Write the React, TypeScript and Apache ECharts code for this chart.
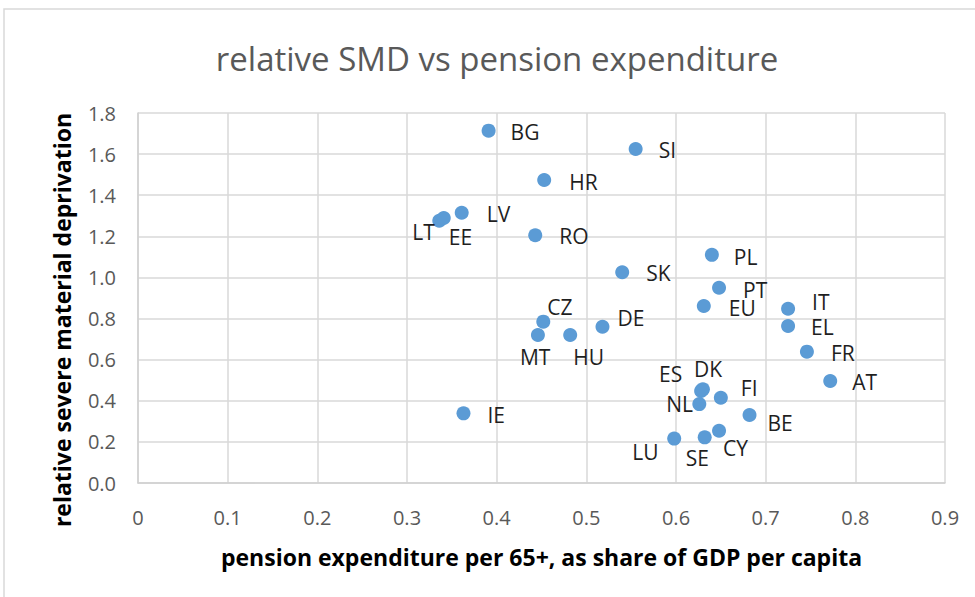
import React, { useEffect, useRef } from "react";
import * as echarts from "echarts";

const countries = ["BG","SI","HR","LV","LT","EE","RO","PL","SK","PT","EU","CZ","MT","HU","DE","IE","ES","DK","NL","FI","BE","LU","SE","CY","IT","EL","FR","AT"];
const pensionShare = [0.391,0.555,0.453,0.361,0.336,0.341,0.443,0.640,0.540,0.648,0.631,0.452,0.446,0.482,0.518,0.363,0.628,0.630,0.626,0.650,0.682,0.598,0.632,0.648,0.725,0.725,0.746,0.772];
const relativeSMD = [1.714,1.625,1.474,1.315,1.276,1.289,1.205,1.110,1.025,0.950,0.861,0.785,0.720,0.720,0.760,0.339,0.448,0.456,0.384,0.415,0.331,0.216,0.222,0.254,0.848,0.764,0.639,0.496];
const xTicks = [0,0.1,0.2,0.3,0.4,0.5,0.6,0.7,0.8,0.9];
const yTicks = [0,0.2,0.4,0.6,0.8,1.0,1.2,1.4,1.6,1.8];
const chartTitle = "relative SMD vs pension expenditure";
const xTitle = "pension expenditure per 65+, as share of GDP per capita";
const yTitle = "relative severe material deprivation";

// label offsets (left edge, vertical centre) relative to marker centre
const labelOffsets: Record<string, [number, number]> = {
  BG: [22, 1], SI: [23, 1], HR: [25, 2], LV: [25, 1], LT: [-27, 11], EE: [5, 19],
  RO: [24, 1], PL: [22, 2], SK: [24, 1], PT: [24, 2], EU: [25, 2], CZ: [4, -15],
  MT: [-18, 22], HU: [3, 22], DE: [15, -9], IE: [24, 2], ES: [-42, -17], DK: [-9, -20],
  NL: [-33, 0], FI: [20, -10], BE: [18, 8], LU: [-42, 13], SE: [-19, 21], CY: [4, 17],
  IT: [24, -7], EL: [23, 1], FR: [24, 1], AT: [22, 1],
};

export default function App() {
  const ref = useRef<HTMLDivElement>(null);
  useEffect(() => {
    if (!ref.current) return;
    const chart = echarts.init(ref.current, undefined, { renderer: "svg" });
    const data = countries.map((c, i) => ({
      name: c,
      value: [pensionShare[i], relativeSMD[i]],
    }));
    chart.setOption({
      animation: false,
      backgroundColor: "#ffffff",
      textStyle: { fontFamily: "Open Sans" },
      graphic: [
        {
          type: "rect",
          shape: { x: 4, y: 9, width: 1000, height: 620 },
          style: { fill: "none", stroke: "#d9d9d9", lineWidth: 1.5 },
          silent: true,
        },
        {
          type: "text",
          x: 497,
          y: 58,
          style: {
            text: chartTitle,
            fontFamily: "Open Sans",
            fontSize: 33,
            fill: "#595959",
            align: "center",
            verticalAlign: "middle",
          },
          silent: true,
        },
        {
          type: "text",
          x: 62,
          y: 320,
          rotation: Math.PI / 2,
          style: {
            text: yTitle,
            fontFamily: "Open Sans",
            fontSize: 23,
            fontWeight: "bold",
            fill: "#000000",
            align: "center",
            verticalAlign: "middle",
          },
          silent: true,
        },
      ],
      grid: { left: 138, right: 30, top: 113, bottom: 114 },
      xAxis: {
        type: "value",
        min: 0,
        max: 0.9,
        interval: 0.1,
        name: xTitle,
        nameLocation: "middle",
        nameGap: 62,
        nameTextStyle: { fontFamily: "Open Sans", fontSize: 23, fontWeight: "bold", color: "#000000" },
        axisLine: { show: true, lineStyle: { color: "#d0d0d0", width: 1.5 } },
        axisTick: { show: false },
        splitLine: { show: true, lineStyle: { color: "#d9d9d9", width: 1.5 } },
        axisLabel: {
          margin: 24,
          fontFamily: "Open Sans",
          fontSize: 20,
          color: "#595959",
          formatter: (v: number) => {
            const t = xTicks.find((x) => Math.abs(x - v) < 1e-9);
            const val = t === undefined ? v : t;
            return val === 0 ? "0" : val.toFixed(1);
          },
        },
      },
      yAxis: {
        type: "value",
        min: 0,
        max: 1.8,
        interval: 0.2,
        axisLine: { show: true, lineStyle: { color: "#d0d0d0", width: 1.5 } },
        axisTick: { show: false },
        splitLine: { show: true, lineStyle: { color: "#d9d9d9", width: 1.5 } },
        axisLabel: {
          margin: 22,
          fontFamily: "Open Sans",
          fontSize: 20,
          color: "#595959",
          formatter: (v: number) => {
            const t = yTicks.find((y) => Math.abs(y - v) < 1e-9);
            return (t === undefined ? v : t).toFixed(1);
          },
        },
      },
      series: [
        {
          type: "scatter",
          symbol: "circle",
          symbolSize: 14,
          itemStyle: { color: "#5b9bd5", opacity: 1 },
          label: {
            show: true,
            position: "inside",
            align: "left",
            verticalAlign: "middle",
            formatter: (p: any) => p.name,
            fontFamily: "Open Sans",
            fontSize: 21,
            color: "#1f1f1f",
          },
          labelLayout: (params: any) => {
            const off = labelOffsets[countries[params.dataIndex]] || [0, 0];
            return { dx: off[0], dy: off[1], hideOverlap: false };
          },
          data,
        },
      ],
    });
    return () => chart.dispose();
  }, []);
  return (
    <div
      ref={ref}
      style={{ position: "fixed", left: 0, top: 0, width: 975, height: 597 }}
    />
  );
}
